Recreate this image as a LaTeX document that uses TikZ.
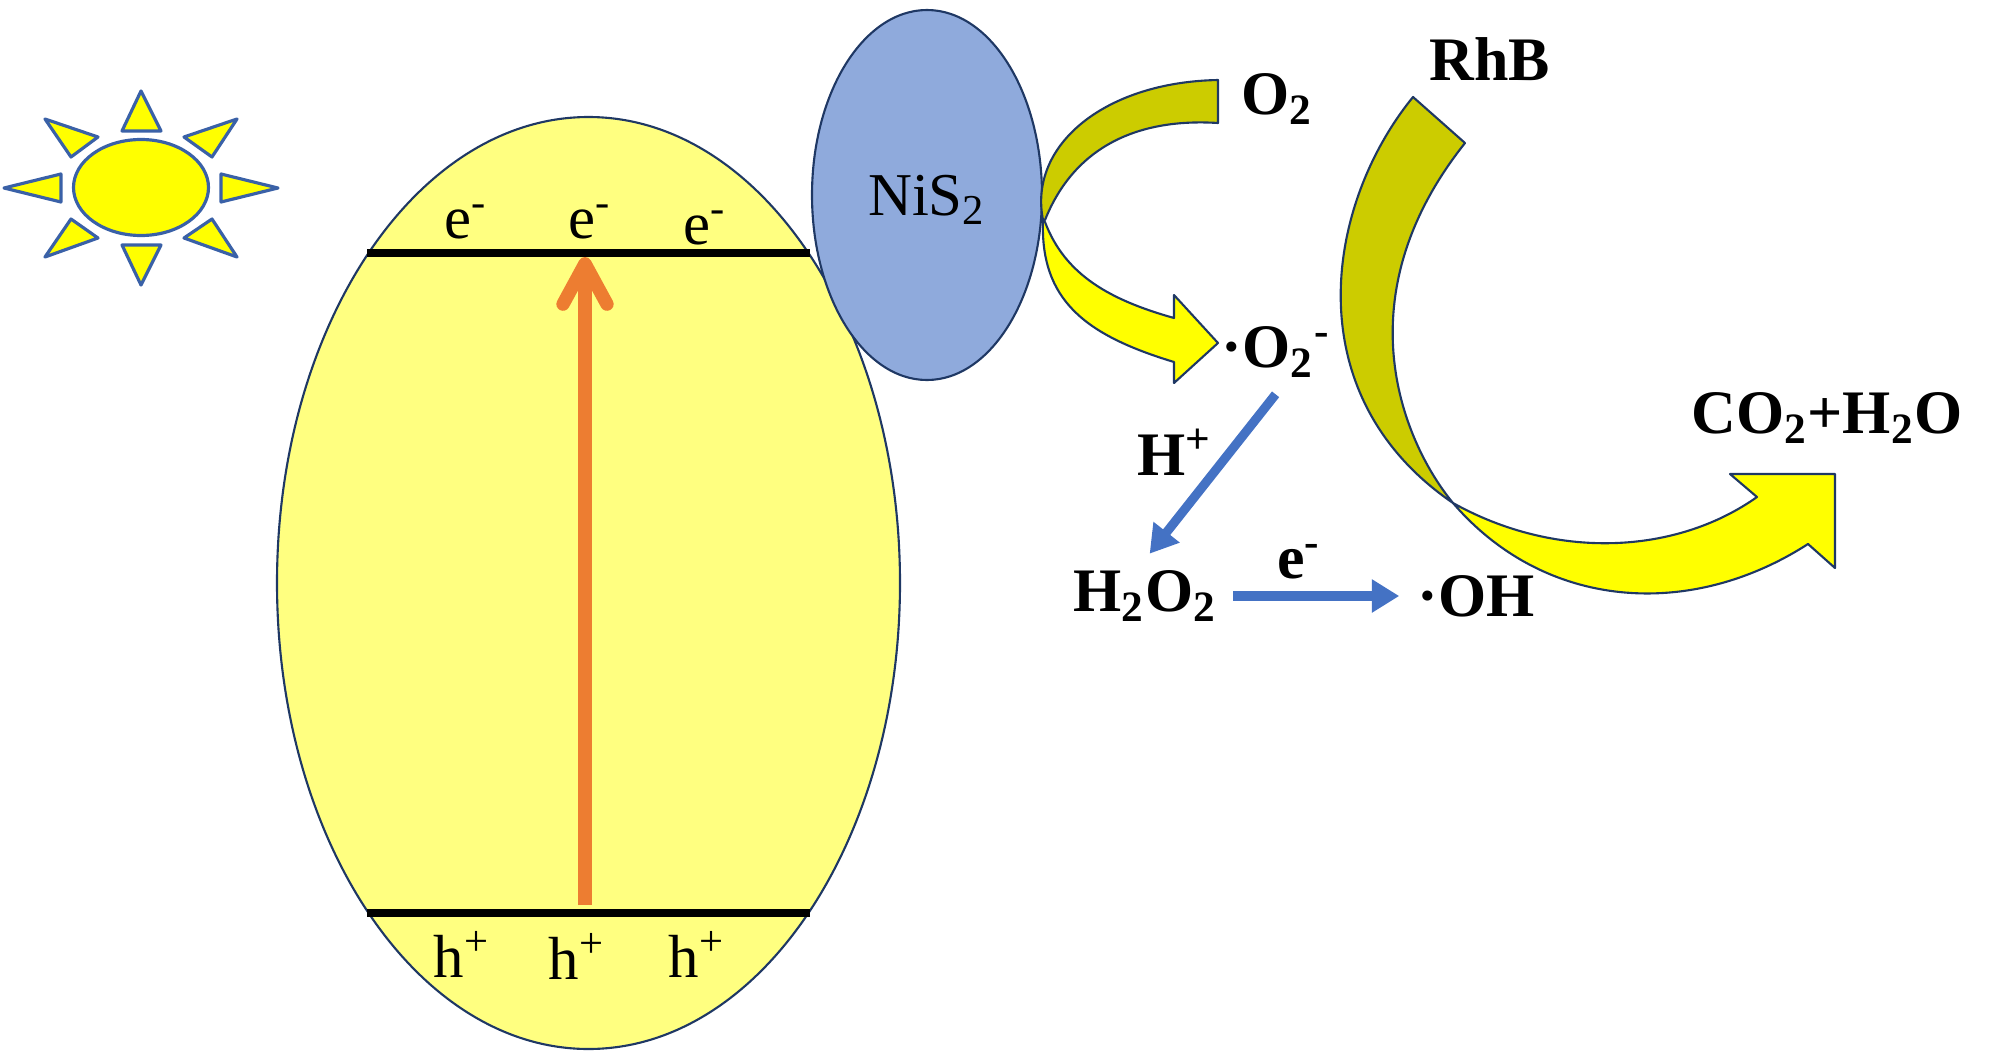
\documentclass[tikz,border=0pt]{standalone}
\usepackage{fontspec}
\setmainfont{Liberation Serif}
\usetikzlibrary{arrows.meta}
\definecolor{cellfill}{HTML}{FFFF80}
\definecolor{sunfill}{HTML}{FFFF00}
\definecolor{nisfill}{HTML}{8FAADC}
\definecolor{olive}{HTML}{CCCC00}
\definecolor{edge}{HTML}{1F3864}
\definecolor{arrowblue}{HTML}{4472C4}
\definecolor{arroworange}{HTML}{ED7D31}
\tikzset{
  plain/.style={font=\fontsize{17.3}{20}\selectfont,inner sep=0pt},
  species/.style={font=\fontsize{17.6}{20}\selectfont\bfseries,inner sep=0pt},
  ray/.style={draw=arrowblue!85!black,fill=sunfill,line width=0.9pt,line join=round},
  band/.style={line width=2pt,black},
  shell/.style={draw=edge,line width=0.6pt,line join=round},
  bluearrow/.style={draw=arrowblue,line width=2.6pt,-{Triangle[width=9pt,length=7.8pt]}}
}
\begin{document}
\begin{tikzpicture}[x=0.01cm,y=-0.01cm]
        \useasboundingbox (0,0) rectangle (1999,1051);
        % Sun
        \draw[ray] (141,187.5) ellipse (67.5 and 48);
        \draw[ray] (141,91) -- (122,131) -- (161,131) -- cycle;
        \draw[ray] (237,119) -- (184,137) -- (212,157) -- cycle;
        \draw[ray] (278,188) -- (221,174) -- (221,202) -- cycle;
        \draw[ray] (237,257) -- (184,238) -- (212,219) -- cycle;
        \draw[ray] (141,285) -- (122,245) -- (161,245) -- cycle;
        \draw[ray] (45,257) -- (98,238) -- (71,219) -- cycle;
        \draw[ray] (4,188) -- (61,174) -- (61,202) -- cycle;
        \draw[ray] (45,119) -- (98,137) -- (71,157) -- cycle;
        % Ellipses
        \draw[shell,fill=cellfill] (588.5,583) ellipse (311.5 and 466);
        \draw[shell,fill=nisfill] (927,195) ellipse (115 and 185);
        % Bands
        \coordinate (CBL) at (367,253);
        \coordinate (CBR) at (810,253);
        \coordinate (CBM) at (585,257);
        \coordinate (VBL) at (367,913);
        \coordinate (VBR) at (810,913);
        \coordinate (VBM) at (585,905);
        \draw[band] (CBL) -- (CBR);
        \draw[band] (VBL) -- (VBR);
        \draw[arroworange,line width=3.8pt,-{Straight Barb[round,length=11.5pt,width=12.5pt]}] (VBM) -- (CBM);
        % Band labels
        \node[plain] (E1) at (466,222) {e\textsuperscript{-}};
        \node[plain] (E2) at (590,222) {e\textsuperscript{-}};
        \node[plain] (E3) at (705,228) {e\textsuperscript{-}};
        \node[plain] (H1) at (462,954) {h\textsuperscript{+}};
        \node[plain] (H2) at (577,956) {h\textsuperscript{+}};
        \node[plain] (H3) at (697,954) {h\textsuperscript{+}};
        \node[plain] (NIS) at (927,200) {NiS\textsubscript{2}};
        % Curved arrows
        \draw[shell,fill=olive] (1043,220) .. controls (1028,145) and (1105,82) .. (1218,80)
          -- (1218,123) .. controls (1140,118) and (1075,145) .. (1045,220) -- cycle;
        \draw[shell,fill=sunfill] (1043,220) .. controls (1040,300) and (1085,335) .. (1174,362)
          -- (1174,383) -- (1218,343) -- (1174,295) -- (1174,318)
          .. controls (1110,300) and (1065,275) .. (1045,222) -- cycle;
        \draw[shell,fill=olive] (1413,97) .. controls (1325,205) and (1295,395) .. (1453,503)
          .. controls (1405,445) and (1340,300) .. (1465,143) -- cycle;
        \draw[shell,fill=sunfill] (1453,503) .. controls (1555,560) and (1675,555) .. (1757,497)
          -- (1730,474) -- (1835,474) -- (1835,568) -- (1808,544)
          .. controls (1690,620) and (1545,610) .. (1453,503) -- cycle;
        % Species
        \node[species] (O2) at (1277,99) {O\textsubscript{2}};
        \node[species] (RHB) at (1490,59) {RhB};
        \node[species] (SUP) at (1276,352) {·O\textsubscript{2}\textsuperscript{-}};
        \node[species] (HP) at (1175,452) {H\textsuperscript{+}};
        \node[species] (HOO) at (1145,596) {H\textsubscript{2}O\textsubscript{2}};
        \node[species] (EM) at (1299,562) {e\textsuperscript{-}};
        \node[species] (OH) at (1476,596) {·OH};
        \node[species] (PROD) at (1827,418) {CO\textsubscript{2}+H\textsubscript{2}O};
        % Reactions
        \draw[bluearrow,shorten <=6pt,shorten >=6pt] ([xshift=3.6pt]SUP.south) -- ([xshift=-2.4pt]HOO.north);
        \draw[bluearrow,shorten <=4.5pt,shorten >=5pt] (HOO.east) -- (OH.west);
    \end{tikzpicture}
\end{document}
